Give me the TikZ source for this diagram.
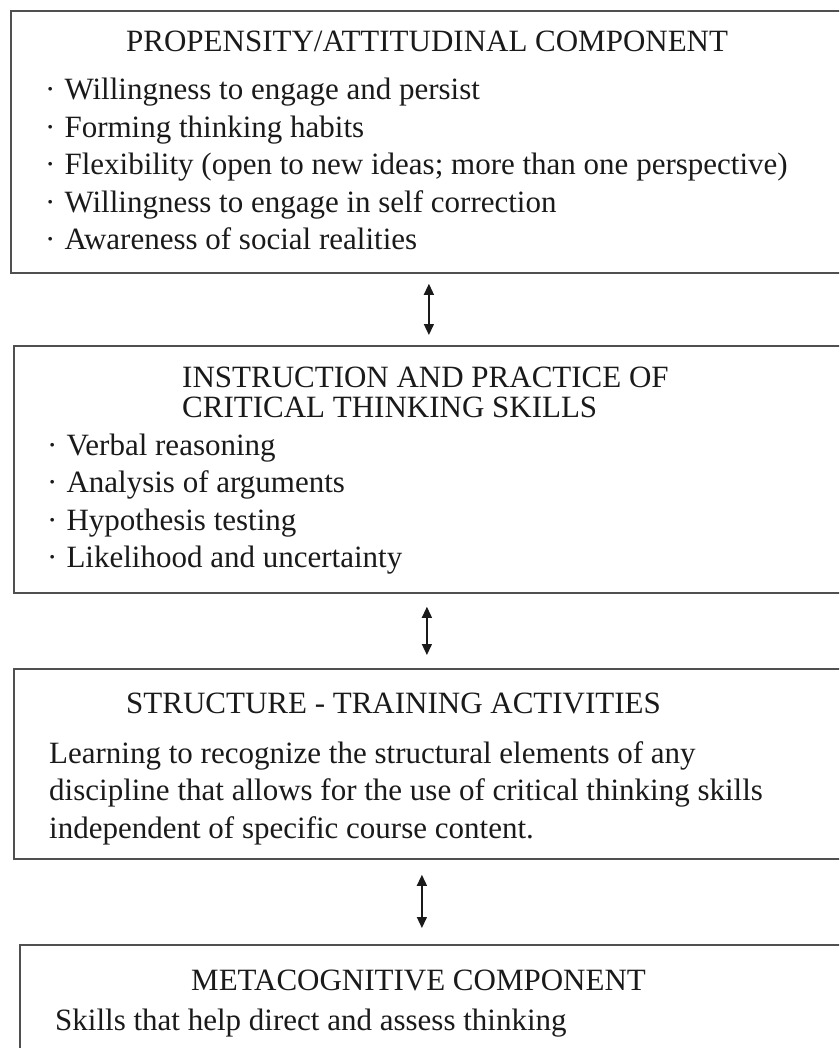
\documentclass[tikz,border=0pt]{standalone}
\usepackage{fontspec}
\setmainfont{Liberation Serif}
\usepackage{xcolor}
\definecolor{cfborder}{HTML}{505050}
\definecolor{cftext}{HTML}{1A1A1A}
\usetikzlibrary{arrows.meta,positioning}

\newcommand{\cfdot}{\textperiodcentered\hskip 9pt}

\tikzset{
  cfbox/.style={draw=cfborder,line width=1.8pt,anchor=north west,minimum width=880pt,inner sep=0pt},
  cftext/.style={anchor=base west,inner sep=0pt,text=cftext,font=\fontsize{31}{34}\selectfont},
  cflink/.style={{Triangle[length=11pt,width=10pt]}-{Triangle[length=11pt,width=10pt]},line width=1.4pt,draw=cftext}
}

\begin{document}
\begin{tikzpicture}[x=1pt,y=-1pt]
\useasboundingbox (0,0) rectangle (839,1048);
\clip (0,0) rectangle (839,1048);

% boxes
\node[cfbox,minimum height=262pt] (prop) at (10,10) {};
\node[cfbox,minimum height=247pt] (instr) at (13,345) {};
\node[cfbox,minimum height=190pt] (struct) at (13,668) {};
\node[cfbox,minimum height=200pt] (meta) at (19,944) {};

% propensity
\node[cftext] (proptitle) at (126,52) {PROPENSITY/ATTITUDINAL COMPONENT};
\foreach \t [count=\i] in {Willingness to engage and persist,Forming thinking habits,Flexibility (open to new ideas; more than one perspective),Willingness to engage in self correction,Awareness of social realities}
  \node[cftext] (prop\i) at (45,{100+37.5*(\i-1)}) {\cfdot\t};

% instruction
\node[cftext] (instrtitlea) at (182,387) {INSTRUCTION AND PRACTICE OF};
\node[cftext] (instrtitleb) at (182,417) {CRITICAL THINKING SKILLS};
\foreach \t [count=\i] in {Verbal reasoning,Analysis of arguments,Hypothesis testing,Likelihood and uncertainty}
  \node[cftext] (instr\i) at (47,{455+37.5*(\i-1)}) {\cfdot\t};

% structure
\node[cftext] (structtitle) at (126,713) {STRUCTURE - TRAINING ACTIVITIES};
\foreach \t [count=\i] in {Learning to recognize the structural elements of any,discipline that allows for the use of critical thinking skills,independent of specific course content.}
  \node[cftext] (struct\i) at (49,{763+37.5*(\i-1)}) {\t};

% metacognitive
\node[cftext] (metatitle) at (191,990) {METACOGNITIVE COMPONENT};
\node[cftext] (meta1) at (55,1030) {Skills that help direct and assess thinking};

% links
\draw[cflink] ([xshift=-22pt,yshift=-10pt]prop.south) -- ([xshift=-25pt,yshift=10pt]instr.north);
\draw[cflink] ([xshift=-27pt,yshift=-13pt]instr.south) -- ([xshift=-27pt,yshift=13pt]struct.north);
\draw[cflink] ([xshift=-32pt,yshift=-15pt]struct.south) -- ([xshift=-38pt,yshift=16pt]meta.north);
\end{tikzpicture}
\end{document}
